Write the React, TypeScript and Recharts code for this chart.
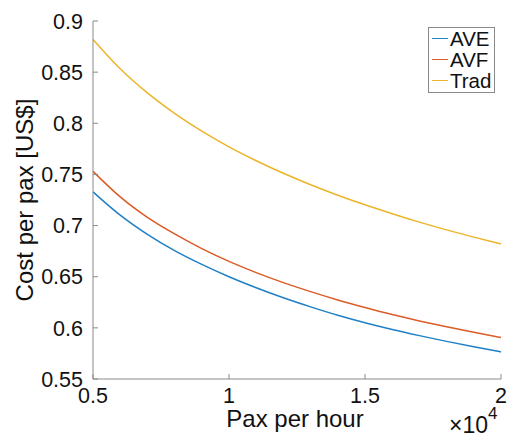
import { LineChart, Line, XAxis, YAxis, Legend } from "recharts";

// pax per hour, in units of 10^4
const paxPerHour = [0.5, 0.6, 0.7, 0.8, 0.9, 1.0, 1.1, 1.2, 1.3, 1.4, 1.5, 1.6, 1.7, 1.8, 1.9, 2.0];
const aveCost = [0.733, 0.7102, 0.6914, 0.6755, 0.662, 0.65, 0.6392, 0.6294, 0.6205, 0.6123, 0.605, 0.5984, 0.5924, 0.5868, 0.5815, 0.5765];
const avfCost = [0.753, 0.728, 0.708, 0.6918, 0.6775, 0.665, 0.654, 0.6442, 0.6354, 0.6273, 0.6199, 0.613, 0.6068, 0.601, 0.5956, 0.5905];
const tradCost = [0.882, 0.8533, 0.8297, 0.8097, 0.7923, 0.777, 0.7634, 0.7511, 0.7399, 0.7297, 0.7203, 0.7116, 0.7034, 0.6958, 0.6887, 0.682];

const seriesNames = ["AVE", "AVF", "Trad"];
const seriesColors = ["#1f80c6", "#db5c27", "#ecb42a"];

const xTicks = [0.5, 1, 1.5, 2];
const xTickLabels = ["0.5", "1", "1.5", "2"];
const yTicks = [0.55, 0.6, 0.65, 0.7, 0.75, 0.8, 0.85, 0.9];
const yTickLabels = ["0.55", "0.6", "0.65", "0.7", "0.75", "0.8", "0.85", "0.9"];

const data = paxPerHour.map((x, i) => ({
  x,
  AVE: aveCost[i],
  AVF: avfCost[i],
  Trad: tradCost[i],
}));

const FONT = '"Liberation Sans", Arial, Helvetica, sans-serif';
const AXIS = "#8a8a8a";
const INK = "#111";
const TICK = 5;

const label = (vals: number[], labels: string[], v: number) => {
  const i = vals.findIndex((t) => Math.abs(t - v) < 1e-9);
  return i >= 0 ? labels[i] : String(v);
};

function LeftTick({ x, y, payload }: any) {
  return (
    <g>
      <line x1={x} x2={x + TICK} y1={y} y2={y} stroke={AXIS} />
      <text x={x - 10} y={y} dy="0.36em" textAnchor="end" fontSize={21.5} fontFamily={FONT} fill={INK}>
        {label(yTicks, yTickLabels, payload.value)}
      </text>
    </g>
  );
}

function RightTick({ x, y }: any) {
  return <line x1={x} x2={x - TICK} y1={y} y2={y} stroke={AXIS} />;
}

function BottomTick({ x, y, payload }: any) {
  return (
    <g>
      <line x1={x} x2={x} y1={y} y2={y - TICK} stroke={AXIS} />
      <text x={x} y={y + 24} textAnchor="middle" fontSize={21.5} fontFamily={FONT} fill={INK}>
        {label(xTicks, xTickLabels, payload.value)}
      </text>
    </g>
  );
}

function TopTick({ x, y }: any) {
  return <line x1={x} x2={x} y1={y} y2={y + TICK} stroke={AXIS} />;
}

function YTitle({ viewBox }: any) {
  const vb = viewBox || { x: 0, y: 21, width: 93, height: 358 };
  const cx = vb.x + 33;
  const cy = vb.y + vb.height / 2;
  return (
    <text
      x={cx}
      y={cy}
      transform={`rotate(-90, ${cx}, ${cy})`}
      textAnchor="middle"
      fontSize={24}
      fontFamily={FONT}
      fill={INK}
    >
      Cost per pax [US$]
    </text>
  );
}

function XTitle({ viewBox }: any) {
  const vb = viewBox || { x: 93, y: 379, width: 408, height: 58 };
  return (
    <g>
      <text x={vb.x + vb.width / 2 - 2} y={vb.y + 48} textAnchor="middle" fontSize={24} fontFamily={FONT} fill={INK}>
        Pax per hour
      </text>
      <text x={vb.x + vb.width - 52} y={vb.y + 54} fontSize={23} fontFamily={FONT} fill={INK}>
        ×10
        <tspan dy={-14} fontSize={17}>
          4
        </tspan>
      </text>
    </g>
  );
}

function LegendBox() {
  return (
    <div
      style={{
        border: `1px solid ${AXIS}`,
        background: "#fff",
        padding: "0 3px 1px 3px",
        fontFamily: FONT,
        fontSize: 20.5,
        lineHeight: "21px",
        color: INK,
      }}
    >
      {seriesNames.map((n, i) => (
        <div key={n} style={{ display: "flex", alignItems: "center" }}>
          <span style={{ display: "inline-block", width: 16, height: 0, borderTop: `1.5px solid ${seriesColors[i]}`, marginRight: 2 }} />
          <span>{n}</span>
        </div>
      ))}
    </div>
  );
}

export default function App() {
  return (
    <div style={{ position: "absolute", left: 0, top: 0, background: "#fff" }}>
      <LineChart width={508} height={437} data={data} margin={{ top: 21, right: 7, bottom: 0, left: 0 }}>
        <XAxis
          dataKey="x"
          type="number"
          domain={[0.5, 2]}
          ticks={xTicks}
          height={58}
          tickSize={0}
          tickMargin={0}
          axisLine={{ stroke: AXIS }}
          tickLine={false}
          tick={<BottomTick />}
          label={<XTitle />}
        />
        <XAxis
          xAxisId="top"
          orientation="top"
          dataKey="x"
          type="number"
          domain={[0.5, 2]}
          ticks={xTicks}
          height={0}
          tickSize={0}
          tickMargin={0}
          axisLine={{ stroke: AXIS }}
          tickLine={false}
          tick={<TopTick />}
        />
        <YAxis
          type="number"
          domain={[0.55, 0.9]}
          ticks={yTicks}
          width={93}
          tickSize={0}
          tickMargin={0}
          axisLine={{ stroke: AXIS }}
          tickLine={false}
          tick={<LeftTick />}
          label={<YTitle />}
        />
        <YAxis
          yAxisId="right"
          orientation="right"
          type="number"
          domain={[0.55, 0.9]}
          ticks={yTicks}
          width={0}
          tickSize={0}
          tickMargin={0}
          axisLine={{ stroke: AXIS }}
          tickLine={false}
          tick={<RightTick />}
        />
        <Legend
          layout="vertical"
          align="center"
          verticalAlign="middle"
          content={<LegendBox />}
          wrapperStyle={{ position: "absolute", top: 27, left: 428, width: "auto", height: "auto" }}
        />
        {seriesNames.map((n, i) => (
          <Line
            key={n}
            dataKey={n}
            type="monotone"
            stroke={seriesColors[i]}
            strokeWidth={1.5}
            dot={false}
            isAnimationActive={false}
          />
        ))}
      </LineChart>
    </div>
  );
}
